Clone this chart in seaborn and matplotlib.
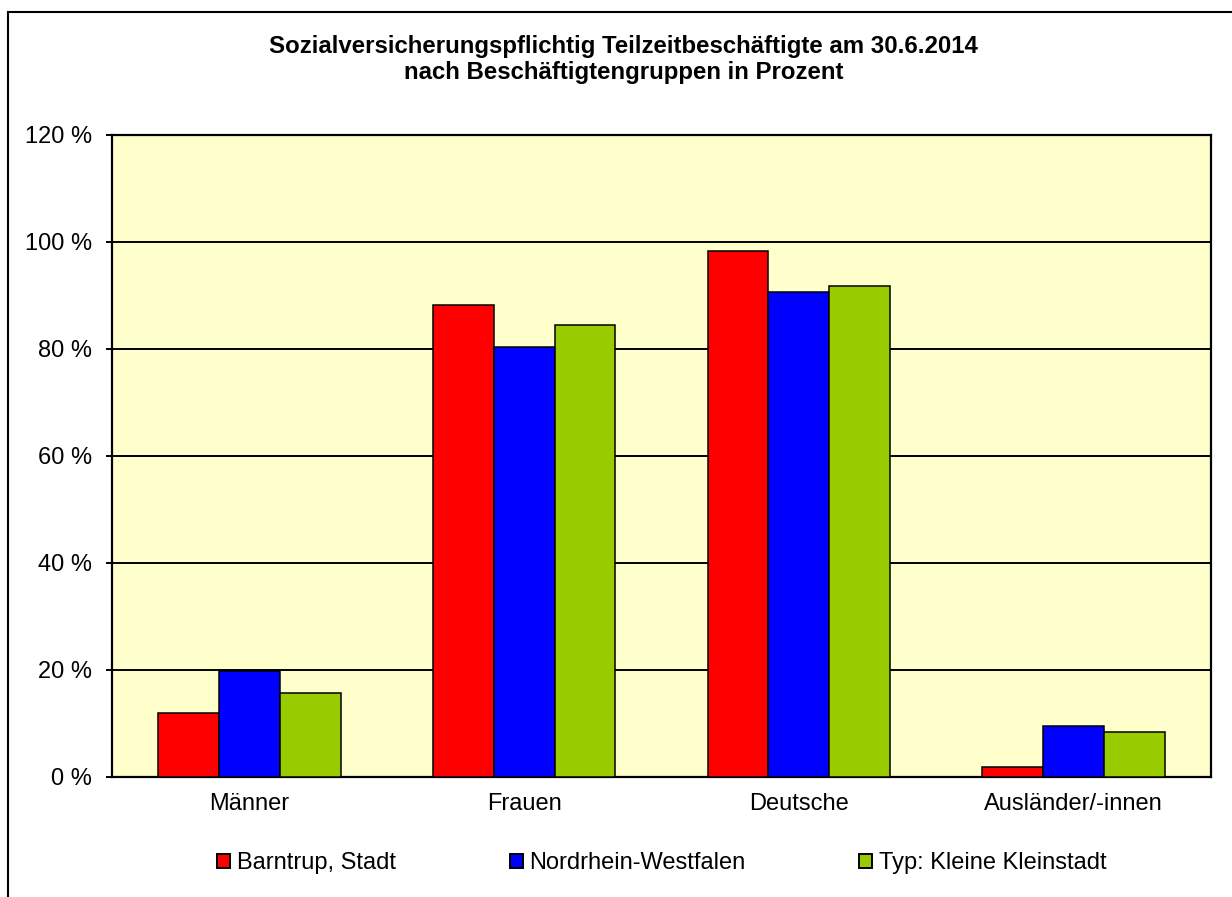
import matplotlib
matplotlib.use("Agg")
import matplotlib.pyplot as plt
import seaborn as sns
import pandas as pd
from matplotlib.patches import Rectangle, Patch

categories = ["Männer", "Frauen", "Deutsche", "Ausländer/-innen"]
series_names = ["Barntrup, Stadt", "Nordrhein-Westfalen", "Typ: Kleine Kleinstadt"]
barntrup = [11.8, 88.2, 98.2, 1.8]
nrw = [19.7, 80.3, 90.6, 9.4]
kleinstadt = [15.6, 84.4, 91.6, 8.4]
y_ticks = [0, 20, 40, 60, 80, 100, 120]
y_tick_labels = ["0 %", "20 %", "40 %", "60 %", "80 %", "100 %", "120 %"]
title = ("Sozialversicherungspflichtig Teilzeitbeschäftigte am 30.6.2014\n"
         "nach Beschäftigtengruppen in Prozent")
colors = ["#FF0000", "#0000FF", "#99CC00"]

rows = []
for name, vals in zip(series_names, [barntrup, nrw, kleinstadt]):
    for c, v in zip(categories, vals):
        rows.append({"Gruppe": c, "Gebiet": name, "Wert": v})
df = pd.DataFrame(rows)

sns.set_theme(style="white")
plt.rcParams["font.family"] = ["Liberation Sans", "DejaVu Sans"]
plt.rcParams["text.color"] = "black"

fig = plt.figure(figsize=(12.32, 8.97), dpi=100)
ax = fig.add_axes([112 / 1232, 1 - 776.5 / 897, (1211 - 112) / 1232, (776.5 - 134.5) / 897])
ax.set_facecolor("#FFFFCC")

sns.barplot(data=df, x="Gruppe", y="Wert", hue="Gebiet", order=categories,
            hue_order=series_names, palette=colors, width=0.665, gap=0,
            edgecolor="black", linewidth=1.1, saturation=1, ax=ax, zorder=3)
if ax.get_legend() is not None:
    ax.get_legend().remove()

ax.set_ylim(0, 120)
ax.set_xlim(-0.5, 3.5)
ax.set_yticks(y_ticks)
ax.set_yticklabels(y_tick_labels)
ax.set_xlabel("")
ax.set_ylabel("")
ax.yaxis.grid(True, color="black", linewidth=1.4, zorder=0)
ax.set_axisbelow(True)
for s in ax.spines.values():
    s.set_color("black")
    s.set_linewidth(1.6)
    s.set_visible(True)
ax.tick_params(axis="y", which="both", left=True, length=4.5, width=1.4,
               color="black", pad=10, labelsize=17, labelcolor="black")
ax.tick_params(axis="x", length=0, pad=12, labelsize=17, labelcolor="black")

fig.text(0.506, 1 - 59.5 / 897, title, ha="center", va="center",
         fontsize=17.3, fontweight="bold", linespacing=1.15, color="black")

handles = [Patch(facecolor=c, edgecolor="black", linewidth=1.4) for c in colors]
fig.legend(handles, series_names, loc="center", ncol=3,
           bbox_to_anchor=(662 / 1232, 1 - 863 / 897), frameon=False,
           fontsize=17, handlelength=0.55, handleheight=0.55,
           handletextpad=0.3, columnspacing=4.8, borderpad=0,
           labelcolor="black")

top = 1 - 12 / 897
frame = Rectangle((7.5 / 1232, -0.2), 1.2, top + 0.2,
                  transform=fig.transFigure, fill=False, edgecolor="black",
                  linewidth=1.5, clip_on=False)
fig.patches.append(frame)

fig.savefig("out.png", dpi=100, facecolor="white")
